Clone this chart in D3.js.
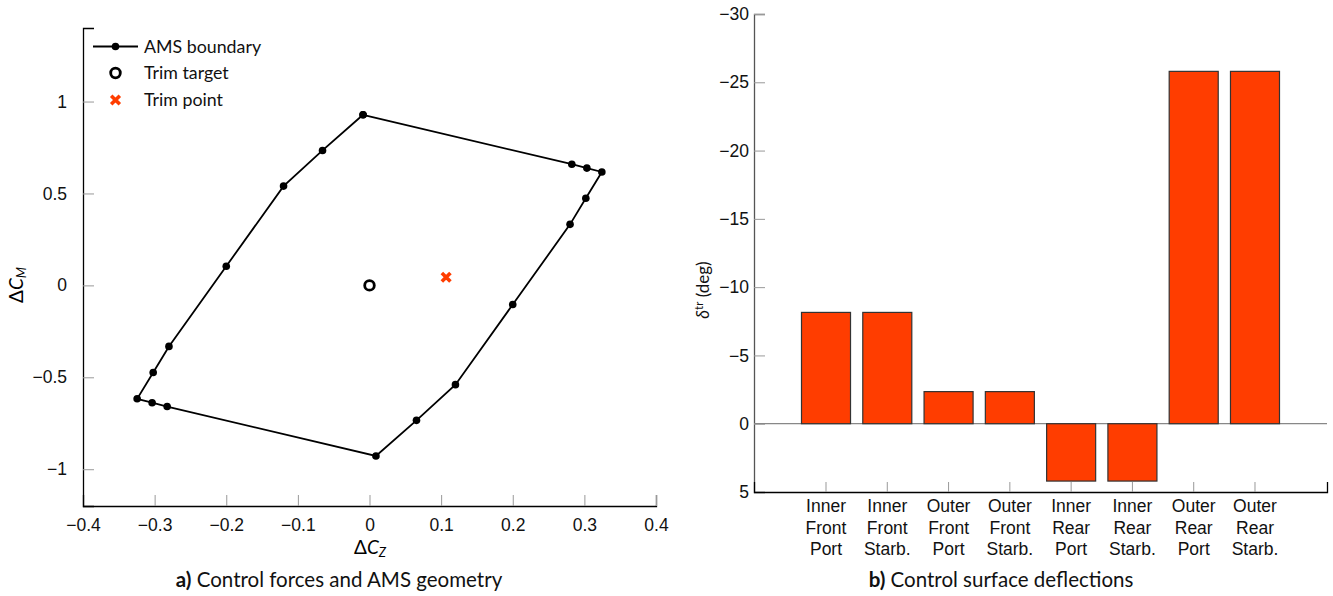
<!DOCTYPE html>
<html>
<head>
<meta charset="utf-8">
<script src="https://cdn.jsdelivr.net/npm/d3@7/dist/d3.min.js"></script>
<style>
  body { margin: 0; background: #fff; }
  svg { font-family: Lato, "Open Sans", sans-serif; }
  .tick text { font-size: 17.5px; fill: #111; }
</style>
</head>
<body>
<svg id="chart" width="1333" height="596"></svg>
<script>
// AMS boundary vertices (ΔC_Z, ΔC_M)
const amsZ = [-0.009, 0.2825, 0.3035, 0.3244, 0.302, 0.28, 0.2, 0.12, 0.0656, 0.009,
  -0.2825, -0.3035, -0.3244, -0.302, -0.28, -0.2, -0.12, -0.0656, -0.009];
const amsM = [0.928, 0.659, 0.638, 0.617, 0.474, 0.332, -0.104, -0.54, -0.734, -0.928,
  -0.659, -0.638, -0.617, -0.474, -0.332, 0.104, 0.54, 0.734, 0.928];
const trimTarget = [0, 0];
const trimPoint = [0.107, 0.044];
const zTicks = [-0.4, -0.3, -0.2, -0.1, 0, 0.1, 0.2, 0.3, 0.4];
const mTicks = [-1, -0.5, 0, 0.5, 1];

// control surface deflections (deg)
const surfaces = [
  ["Inner", "Front", "Port"], ["Inner", "Front", "Starb."],
  ["Outer", "Front", "Port"], ["Outer", "Front", "Starb."],
  ["Inner", "Rear", "Port"], ["Inner", "Rear", "Starb."],
  ["Outer", "Rear", "Port"], ["Outer", "Rear", "Starb."]
];
const deflections = [-8.15, -8.15, -2.35, -2.35, 4.2, 4.2, -25.8, -25.8];
const deltaTicks = [-30, -25, -20, -15, -10, -5, 0, 5];

const svg = d3.select("#chart");
const fmt = (d) => (d < 0 ? "\u2212" + Math.abs(d) : "" + d);
const orange = "#ff3d00";

// ---- a) AMS geometry
const x = d3.scaleLinear().domain([-0.4, 0.4]).range([83, 656]);
const y = d3.scaleLinear().domain([-1.2, 1.4]).range([506, 28]);

const gA = svg.append("g");

gA.append("g")
  .attr("transform", "translate(0,506)")
  .call(d3.axisBottom(x).tickValues(zTicks).tickSize(-11).tickPadding(16).tickFormat(fmt))
  .call((g) => g.select(".domain").attr("stroke", "#000").attr("stroke-width", 1.3))
  .call((g) => g.selectAll(".tick line").attr("stroke", "#999"))
  .call((g) => g.selectAll(".tick text").attr("dy", "0.5em"));

gA.append("g")
  .attr("transform", "translate(83,0)")
  .call(d3.axisLeft(y).tickValues(mTicks).tickSize(-11).tickPadding(16).tickFormat(fmt))
  .call((g) => g.select(".domain").attr("stroke", "#000").attr("stroke-width", 1.3))
  .call((g) => g.selectAll(".tick line").attr("stroke", "#999"));

const boundary = amsZ.map((z, i) => [z, amsM[i]]);
gA.append("path")
  .datum(boundary)
  .attr("fill", "none")
  .attr("stroke", "#000")
  .attr("stroke-width", 1.8)
  .attr("d", d3.line().x((d) => x(d[0])).y((d) => y(d[1])));

gA.selectAll("circle.vertex")
  .data(boundary)
  .enter()
  .append("circle")
  .attr("class", "vertex")
  .attr("cx", (d) => x(d[0]))
  .attr("cy", (d) => y(d[1]))
  .attr("r", 3.8)
  .attr("fill", "#000");

gA.append("circle")
  .attr("cx", x(trimTarget[0]))
  .attr("cy", y(trimTarget[1]))
  .attr("r", 4.8)
  .attr("fill", "#fff")
  .attr("stroke", "#000")
  .attr("stroke-width", 2.8);

const cross = d3.symbol().type(d3.symbolX).size(50);
gA.append("path")
  .attr("transform", `translate(${x(trimPoint[0])},${y(trimPoint[1])})`)
  .attr("d", cross)
  .attr("stroke", orange)
  .attr("stroke-width", 3.6);

// legend
const legend = gA.append("g");
legend.append("line").attr("x1", 93).attr("x2", 138).attr("y1", 46.5).attr("y2", 46.5)
  .attr("stroke", "#000").attr("stroke-width", 1.8);
legend.append("circle").attr("cx", 115.5).attr("cy", 46.5).attr("r", 3.8).attr("fill", "#000");
legend.append("circle").attr("cx", 115.5).attr("cy", 73).attr("r", 4.8)
  .attr("fill", "#fff").attr("stroke", "#000").attr("stroke-width", 2.8);
legend.append("path").attr("transform", "translate(115.5,100)").attr("d", cross)
  .attr("stroke", orange).attr("stroke-width", 3.6);
["AMS boundary", "Trim target", "Trim point"].forEach((t, i) => {
  legend.append("text").attr("x", 144).attr("y", [46.5, 73, 100][i]).attr("dy", "0.35em")
    .attr("font-size", 17.8).attr("fill", "#111").text(t);
});

// axis labels
const xl = gA.append("text").attr("x", 370).attr("y", 554).attr("text-anchor", "middle").attr("font-size", 19);
xl.append("tspan").text("\u0394");
xl.append("tspan").attr("font-style", "italic").text("C");
xl.append("tspan").attr("font-style", "italic").attr("font-size", 13).attr("dy", 3).text("Z");

const yl = gA.append("text").attr("transform", "translate(23,285) rotate(-90)")
  .attr("text-anchor", "middle").attr("font-size", 19);
yl.append("tspan").text("\u0394");
yl.append("tspan").attr("font-style", "italic").text("C");
yl.append("tspan").attr("font-style", "italic").attr("font-size", 13).attr("dy", 3).text("M");

const capA = gA.append("text").attr("x", 339).attr("y", 587).attr("text-anchor", "middle")
  .attr("font-size", 20.5).attr("fill", "#111");
capA.append("tspan").attr("font-weight", "bold").text("a)");
capA.append("tspan").text(" Control forces and AMS geometry");

// ---- b) deflections
const xb = d3.scaleBand().domain(d3.range(surfaces.length)).range([754, 1327])
  .paddingInner(0.2).paddingOuter(0.775);
const yb = d3.scaleLinear().domain([5, -30]).range([492, 14]);

const gB = svg.append("g");

gB.append("g")
  .attr("transform", "translate(754,0)")
  .call(d3.axisLeft(yb).tickValues(deltaTicks).tickSize(-11).tickPadding(5).tickFormat(fmt))
  .call((g) => g.select(".domain").attr("stroke", "#555").attr("stroke-width", 1.3))
  .call((g) => g.selectAll(".tick line").attr("stroke", "#999"));

gB.append("line")
  .attr("x1", 754).attr("x2", 1327)
  .attr("y1", yb(0)).attr("y2", yb(0))
  .attr("stroke", "#888").attr("stroke-width", 1.3);

gB.selectAll("rect.bar")
  .data(deflections)
  .enter()
  .append("rect")
  .attr("class", "bar")
  .attr("x", (d, i) => xb(i))
  .attr("width", xb.bandwidth())
  .attr("y", (d) => Math.min(yb(d), yb(0)))
  .attr("height", (d) => Math.abs(yb(d) - yb(0)))
  .attr("fill", orange)
  .attr("stroke", "#333")
  .attr("stroke-width", 1.2);

const xAxisB = gB.append("g")
  .attr("transform", "translate(0,492)")
  .call(d3.axisBottom(xb).tickSize(-10).tickFormat(""))
  .call((g) => g.select(".domain").attr("stroke", "#000").attr("stroke-width", 1.3))
  .call((g) => g.selectAll(".tick line").attr("stroke", "#999"));

xAxisB.selectAll(".tick").each(function (d) {
  const t = d3.select(this).append("text")
    .attr("text-anchor", "middle").attr("font-size", 17.8).attr("fill", "#111");
  surfaces[d].forEach((w, k) => {
    t.append("tspan").attr("x", 0).attr("y", 20 + k * 21.5).text(w);
  });
});

const ylb = gB.append("text").attr("transform", "translate(709,290) rotate(-90)")
  .attr("text-anchor", "middle").attr("font-size", 17).attr("fill", "#111");
ylb.append("tspan").attr("font-style", "italic").text("\u03b4");
ylb.append("tspan").attr("font-size", 11.5).attr("dy", -6).text("tr");
ylb.append("tspan").attr("dy", 6).text(" (deg)");

const capB = gB.append("text").attr("x", 1001).attr("y", 587).attr("text-anchor", "middle")
  .attr("font-size", 20.5).attr("fill", "#111");
capB.append("tspan").attr("font-weight", "bold").text("b)");
capB.append("tspan").text(" Control surface deflections");
</script>
</body>
</html>
